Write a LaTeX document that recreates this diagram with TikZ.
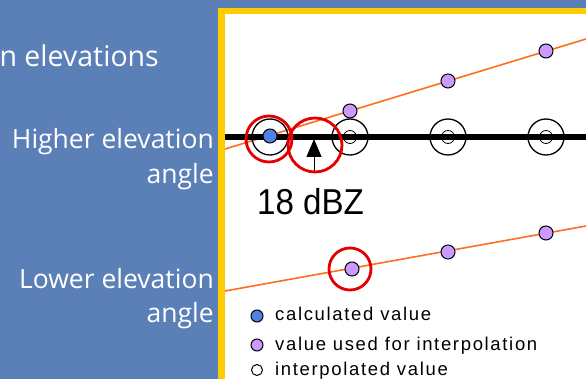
\documentclass[tikz,border=0pt]{standalone}
\usepackage{fontspec}
\setmainfont{Open Sans}
\newfontfamily\arialf{Liberation Sans}
\newfontfamily\legf[LetterSpace=9]{Liberation Sans}
\usetikzlibrary{arrows.meta}
\definecolor{bgblue}{RGB}{91,127,183}
\definecolor{panelyellow}{RGB}{255,204,0}
\definecolor{lineorange}{RGB}{255,110,30}
\definecolor{dotpurple}{RGB}{204,153,255}
\definecolor{dotblue}{RGB}{80,130,230}
\definecolor{markred}{RGB}{228,0,0}
\tikzset{
  sidetext/.style={text=white,font=\fontsize{26.5}{34}\selectfont,inner sep=0pt,anchor=base east},
  ringmark/.style={draw=black,line width=1.3pt,circle,minimum size=36pt,inner sep=0pt},
  innerring/.style={draw=black,line width=0.8pt,circle,minimum size=13pt,inner sep=0pt},
  purpledot/.style={draw=black,line width=1pt,fill=dotpurple,circle,minimum size=14pt,inner sep=0pt},
  bluedot/.style={draw=black,line width=1pt,fill=dotblue,circle,minimum size=14pt,inner sep=0pt},
  redring/.style={draw=markred,line width=2.8pt,circle,inner sep=0pt},
  orangeline/.style={draw=lineorange,line width=1.6pt},
  legtext/.style={font=\legf\fontsize{18.5}{20}\selectfont,anchor=base west,inner sep=0pt}
}
\begin{document}
\begin{tikzpicture}[x=1pt,y=-1pt]
\useasboundingbox (0,0) rectangle (586,379);
\fill[bgblue] (0,0) rectangle (586,379);
\fill[panelyellow] (218,8) rectangle (586,379);
\fill[white] (225,14) rectangle (586,379);
% side texts
\node[sidetext,font=\fontsize{28.5}{34}\selectfont] (t0) at (159,67) {n elevations};
\node[sidetext] (t1) at (214,149) {Higher elevation};
\node[sidetext] (t2) at (214,184) {angle};
\node[sidetext] (t3) at (214,288) {Lower elevation};
\node[sidetext] (t4) at (214,322) {angle};
% orange lines
\coordinate (ua) at (225,149);
\coordinate (ub) at (586,39);
\coordinate (la) at (225,291);
\coordinate (lb) at (586,226);
\draw[orangeline] (ua) -- (ub);
\draw[orangeline] (la) -- (lb);
% black line
\coordinate (ba) at (225,137);
\coordinate (bb) at (586,137);
\draw[line width=6pt] (ba) -- (bb);
% rings
\node[ringmark] (r1) at (270,137) {};
\node[ringmark] (r2) at (350,137) {};
\node[ringmark] (r3) at (448,137) {};
\node[ringmark] (r4) at (546,137) {};
\node[innerring] (i2) at (350,137) {};
\node[innerring] (i3) at (448,137) {};
\node[innerring] (i4) at (546,137) {};
\node[bluedot] (c1) at (270,136) {};
% purple dots
\node[purpledot] (p1) at (350,111) {};
\node[purpledot] (p2) at (448,81) {};
\node[purpledot] (p3) at (546,51) {};
\node[purpledot] (q1) at (352,269) {};
\node[purpledot] (q2) at (448,252) {};
\node[purpledot] (q3) at (546,233) {};
% arrow
\coordinate (astem) at (314,173);
\coordinate (atip) at (314,139);
\draw[line width=1pt,-{Triangle[length=18pt,width=15pt]}] (astem) -- (atip);
% red rings
\node[redring,minimum size=46pt] (m1) at (269,139) {};
\node[redring,minimum size=54pt] (m2) at (315,145) {};
\node[redring,minimum size=42pt] (m3) at (350,269) {};
% label
\node[font=\arialf\fontsize{36}{38}\selectfont,anchor=base west,inner sep=0pt,xscale=0.92] (dbz) at (257,215) {18 dBZ};
% legend
\node[bluedot,minimum size=12pt] (lg1) at (257,316) {};
\node[purpledot,minimum size=12pt] (lg2) at (257,345) {};
\node[draw=black,line width=1pt,fill=white,circle,minimum size=11pt,inner sep=0pt] (lg3) at (257,370) {};
\node[legtext] (lt1) at (275,320) {calculated value};
\node[legtext] (lt2) at (275,350) {value used for interpolation};
\node[legtext] (lt3) at (275,375) {interpolated value};
\end{tikzpicture}
\end{document}
